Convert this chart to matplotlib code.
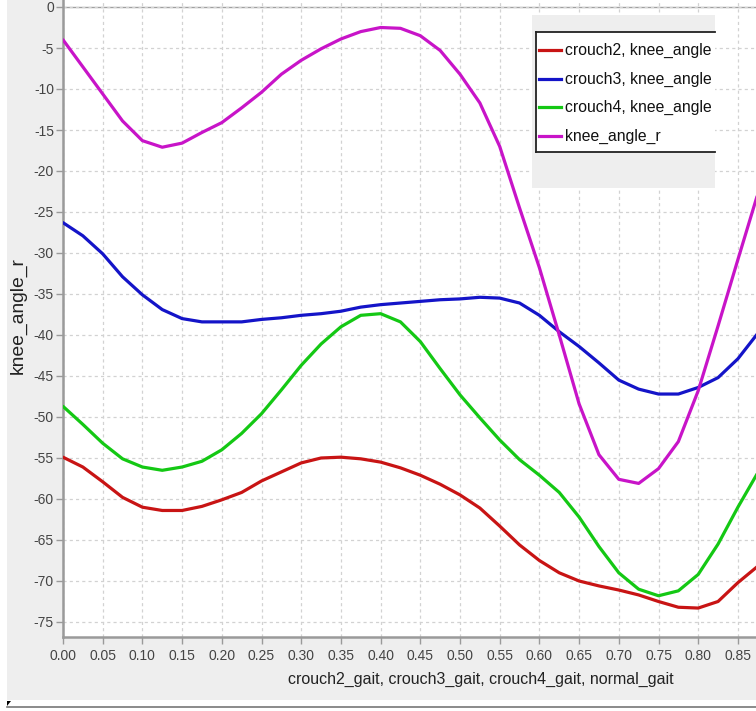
import matplotlib
matplotlib.use("Agg")
import matplotlib.pyplot as plt
from matplotlib.lines import Line2D
from matplotlib.patches import Rectangle, Polygon

# gait cycle fraction
gait_x = [0.000, 0.025, 0.050, 0.075, 0.100, 0.125, 0.150, 0.175, 0.200, 0.225,
          0.250, 0.275, 0.300, 0.325, 0.350, 0.375, 0.400, 0.425, 0.450, 0.475,
          0.500, 0.525, 0.550, 0.575, 0.600, 0.625, 0.650, 0.675, 0.700, 0.725,
          0.750, 0.775, 0.800, 0.825, 0.850, 0.875]

crouch2 = [-54.9, -56.1, -57.9, -59.8, -61.0, -61.4, -61.4, -60.9, -60.1, -59.2,
           -57.8, -56.7, -55.6, -55.0, -54.9, -55.1, -55.5, -56.2, -57.1, -58.2,
           -59.5, -61.1, -63.3, -65.6, -67.5, -69.0, -70.0, -70.6, -71.1, -71.7,
           -72.5, -73.2, -73.3, -72.5, -70.2, -68.2]

crouch3 = [-26.3, -27.9, -30.1, -32.9, -35.1, -36.9, -38.0, -38.4, -38.4, -38.4,
           -38.1, -37.9, -37.6, -37.4, -37.1, -36.6, -36.3, -36.1, -35.9, -35.7,
           -35.6, -35.4, -35.5, -36.1, -37.6, -39.6, -41.4, -43.4, -45.5, -46.6,
           -47.2, -47.2, -46.4, -45.2, -42.9, -39.8]

crouch4 = [-48.7, -50.9, -53.2, -55.1, -56.1, -56.5, -56.1, -55.4, -54.0, -52.0,
           -49.6, -46.7, -43.7, -41.1, -39.0, -37.6, -37.4, -38.4, -40.8, -44.1,
           -47.3, -50.1, -52.8, -55.2, -57.1, -59.2, -62.2, -65.8, -69.0, -71.0,
           -71.8, -71.2, -69.2, -65.5, -61.0, -56.8]

normal = [-4.0, -7.3, -10.6, -13.9, -16.3, -17.1, -16.6, -15.3, -14.1, -12.3,
          -10.4, -8.2, -6.5, -5.1, -3.9, -3.0, -2.5, -2.6, -3.5, -5.3,
          -8.2, -11.7, -17.0, -24.5, -31.8, -40.0, -48.4, -54.6, -57.6, -58.1,
          -56.3, -53.0, -46.8, -38.9, -30.8, -22.8]

series_names = ["crouch2, knee_angle", "crouch3, knee_angle",
                "crouch4, knee_angle", "knee_angle_r"]
series_values = [crouch2, crouch3, crouch4, normal]
series_colors = ["#c81414", "#1414c8", "#14c814", "#c814c8"]

x_ticks = [0.00, 0.05, 0.10, 0.15, 0.20, 0.25, 0.30, 0.35, 0.40, 0.45,
           0.50, 0.55, 0.60, 0.65, 0.70, 0.75, 0.80, 0.85]
y_ticks = [0, -5, -10, -15, -20, -25, -30, -35, -40, -45, -50, -55,
           -60, -65, -70, -75]

x_title = "crouch2_gait, crouch3_gait, crouch4_gait, normal_gait"
y_title = "knee_angle_r"

W, H = 756, 711
plt.rcParams["font.family"] = ["Liberation Sans", "DejaVu Sans"]

fig = plt.figure(figsize=(W / 100, H / 100), dpi=100)
fig.patch.set_facecolor("#eeeeee")


def fx(px):
    return px / W


def fy(py):
    return 1 - py / H


# plot area: left edge at 63 px, bottom edge at 637 px
ax = fig.add_axes([fx(63), fy(637), fx(W - 63), 637 / H])
ax.set_facecolor("white")

for vals, col in zip(series_values, series_colors):
    ax.plot(gait_x, vals, color=col, lw=2.3, solid_joinstyle="round",
            solid_capstyle="round", zorder=3)

ax.set_xlim(0, (W - 63) / 794)
ax.set_ylim(-630 / 8.2, 7 / 8.2)
ax.set_xticks(x_ticks)
ax.set_xticklabels([f"{v:.2f}" for v in x_ticks])
ax.set_yticks(y_ticks)
ax.set_yticklabels([str(v) for v in y_ticks])

ax.grid(True, color="#d2d2d2", lw=0.9, linestyle=(0, (2.5, 2.5)), zorder=0)
ax.axhline(0, color="#a0a0a0", lw=1.0, zorder=1)

for s in ["top", "right"]:
    ax.spines[s].set_visible(False)
for s in ["left", "bottom"]:
    ax.spines[s].set_color("#9a9a9a")
    ax.spines[s].set_linewidth(1.8)

ax.tick_params(axis="both", direction="out", length=5, width=1,
               color="#9a9a9a", labelcolor="#444444", labelsize=10)
ax.tick_params(axis="y", pad=1.5)
ax.tick_params(axis="x", pad=3.5)

fig.text(fx(481), fy(679), x_title, ha="center", va="center",
         fontsize=11.5, color="#222222")
fig.text(fx(18), fy(316), y_title, ha="center", va="center",
         rotation=90, fontsize=13.9, color="#222222")

# legend panel
fig.add_artist(Rectangle((fx(532), fy(188)), fx(715 - 532), (188 - 15) / H,
                         transform=fig.transFigure, facecolor="#eeeeee",
                         edgecolor="none", zorder=5))
fig.add_artist(Rectangle((fx(536), fy(152)), fx(715 - 536), (152 - 32) / H,
                         transform=fig.transFigure, facecolor="white",
                         edgecolor="none", zorder=6))
for seg in ([(536, 32), (715, 32)], [(536, 152), (715, 152)],
            [(536, 32), (536, 152)]):
    (x0, y0), (x1, y1) = seg
    fig.add_artist(Line2D([fx(x0), fx(x1)], [fy(y0), fy(y1)],
                          transform=fig.transFigure, color="#222222",
                          lw=1.3, zorder=7))

legend_rows = [50, 79, 107, 136]
for name, col, row in zip(series_names, series_colors, legend_rows):
    fig.add_artist(Line2D([fx(539), fx(561)], [fy(row), fy(row)],
                          transform=fig.transFigure, color=col, lw=2.3,
                          zorder=7))
    fig.text(fx(565), fy(row), name, ha="left", va="center",
             fontsize=11.3, color="#111111", zorder=8)

# window frame strips
fig.add_artist(Rectangle((0, 0), fx(7), 1, transform=fig.transFigure,
                         facecolor="white", edgecolor="none", zorder=9))
fig.add_artist(Rectangle((0, 0), 1, (H - 700) / H, transform=fig.transFigure,
                         facecolor="white", edgecolor="none", zorder=9))
fig.add_artist(Line2D([fx(7), 1], [fy(706.5), fy(706.5)],
                      transform=fig.transFigure, color="#777777", lw=1.2,
                      zorder=10))
fig.add_artist(Polygon([(fx(7), fy(701)), (fx(11), fy(701)), (fx(7), fy(706))],
                       closed=True, transform=fig.transFigure,
                       facecolor="black", edgecolor="none", zorder=10))

fig.savefig("out.png", dpi=100, facecolor=fig.get_facecolor())
